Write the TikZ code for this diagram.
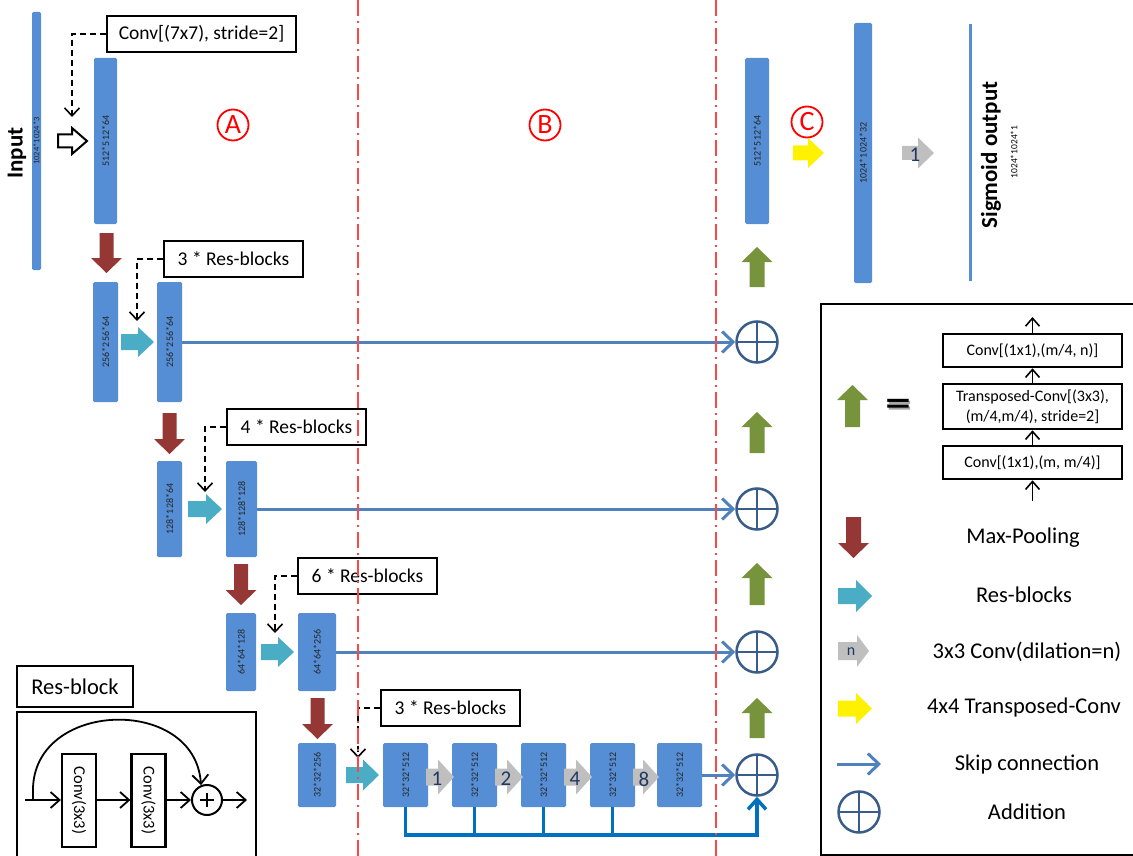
\documentclass[tikz,border=0pt]{standalone}
\usepackage{fontspec}
\setmainfont{Carlito}
\usetikzlibrary{arrows.meta,calc}
\definecolor{barblue}{RGB}{85,142,213}
\definecolor{maroonarr}{RGB}{149,55,53}
\definecolor{cyanarr}{RGB}{75,172,198}
\definecolor{greenarr}{RGB}{119,147,60}
\definecolor{grayarr}{RGB}{191,191,191}
\definecolor{skipblue}{RGB}{79,129,189}
\definecolor{addblue}{RGB}{56,93,138}
\definecolor{busblue}{RGB}{0,112,192}
\definecolor{navytxt}{RGB}{31,56,100}
\definecolor{redline}{RGB}{255,70,70}
\newcommand\fsz[1]{\fontsize{#1}{#1}\selectfont}
% block arrows: right (x1,x2,yc,shafthalf,headhalf,headlen,style)
\newcommand\RArr[7]{\path[#7] (#1,#3-#4) -- (#2-#6,#3-#4) -- (#2-#6,#3-#5) -- (#2,#3) -- (#2-#6,#3+#5) -- (#2-#6,#3+#4) -- (#1,#3+#4) -- cycle;}
% down (xc,ytail,ytip,...)
\newcommand\DArr[7]{\path[#7] (#1-#4,#2) -- (#1+#4,#2) -- (#1+#4,#3-#6) -- (#1+#5,#3-#6) -- (#1,#3) -- (#1-#5,#3-#6) -- (#1-#4,#3-#6) -- cycle;}
% up (xc,ytip,ytail,...)
\newcommand\UArr[7]{\path[#7] (#1-#4,#3) -- (#1+#4,#3) -- (#1+#4,#2+#6) -- (#1+#5,#2+#6) -- (#1,#2) -- (#1-#5,#2+#6) -- (#1-#4,#2+#6) -- cycle;}
\begin{document}
\begin{tikzpicture}[x=1pt,y=-1pt,
  bar/.style={fill=barblue, rounded corners=1.5pt, inner sep=0pt, text=black!85, font=\fsz{10}},
  lbox/.style={draw=black, line width=1.2pt, minimum width=139pt, minimum height=36pt, inner sep=0pt, font=\fsz{19.5}},
  dconn/.style={draw=black, line width=1.6pt, dash pattern=on 6pt off 4pt, -{Straight Barb[length=8pt,width=15pt]}},
  skipl/.style={draw=skipblue, line width=3pt, -{Straight Barb[length=11pt,width=21pt]}},
  busl/.style={draw=busblue, line width=3.5pt},
  addc/.style={circle, draw=addblue, line width=2.5pt, minimum size=41pt, inner sep=0pt,
    path picture={\draw[addblue, line width=2.5pt] (path picture bounding box.north) -- (path picture bounding box.south) (path picture bounding box.west) -- (path picture bounding box.east);}},
  circlab/.style={circle, draw=red, line width=1.8pt, text=red, minimum size=31pt, inner sep=0pt, font=\fsz{28}},
  redl/.style={draw=redline, line width=1.8pt, dash pattern=on 16pt off 5pt on 2pt off 5pt},
  lgbox/.style={draw=black, line width=2.5pt, minimum width=179pt, minimum height=33pt, inner sep=0pt, font=\fsz{16}, align=center},
  larr/.style={draw=black, line width=1.6pt, -{Straight Barb[length=8pt,width=14pt]}},
  rarr/.style={draw=black, line width=1.8pt, -{Straight Barb[length=9pt,width=16pt]}},
  mp/.style={fill=maroonarr}, rbs/.style={fill=cyanarr}, upc/.style={fill=greenarr},
  dil/.style={fill=grayarr}, tconv/.style={fill=yellow},
  numl/.style={text=navytxt, font=\fsz{21}, inner sep=0pt},
  legt/.style={font=\fsz{22.5}}
]
\useasboundingbox (0,0) rectangle (1133,856);

% ---------- encoder bars ----------
\node[bar, minimum width=9pt, minimum height=258pt] (in) at (36.5,141) {\rotatebox{90}{\fsz{8.5}1024*1024*3}};
\node[font=\fsz{23}\bfseries, rotate=90] (inlbl) at (17,153) {Input};
\node[bar, minimum width=23pt, minimum height=166pt] (b1) at (105.5,141) {\rotatebox{90}{512*512*64}};
\node[bar, minimum width=25pt, minimum height=120pt] (b2) at (105.5,342) {\rotatebox{90}{256*256*64}};
\node[bar, minimum width=25pt, minimum height=120pt] (b3) at (169.5,342) {\rotatebox{90}{256*256*64}};
\node[bar, minimum width=25pt, minimum height=96pt] (b4) at (169.5,509) {\rotatebox{90}{128*128*64}};
\node[bar, minimum width=31pt, minimum height=96pt] (b5) at (241.5,509) {\rotatebox{90}{128*128*128}};
\node[bar, minimum width=30pt, minimum height=78pt] (b6) at (241,652) {\rotatebox{90}{64*64*128}};
\node[bar, minimum width=38pt, minimum height=78pt] (b7) at (317,652) {\rotatebox{90}{64*64*256}};
\node[bar, minimum width=38pt, minimum height=64pt] (b8) at (317,775) {\rotatebox{90}{32*32*256}};
\node[bar, minimum width=45pt, minimum height=64pt] (c1) at (405.5,775) {\rotatebox{90}{32*32*512}};
\node[bar, minimum width=45pt, minimum height=64pt] (c2) at (474.5,775) {\rotatebox{90}{32*32*512}};
\node[bar, minimum width=45pt, minimum height=64pt] (c3) at (543.5,775) {\rotatebox{90}{32*32*512}};
\node[bar, minimum width=45pt, minimum height=64pt] (c4) at (612.5,775) {\rotatebox{90}{32*32*512}};
\node[bar, minimum width=45pt, minimum height=64pt] (c5) at (679.5,775) {\rotatebox{90}{32*32*512}};

% ---------- decoder ----------
\node[bar, minimum width=24pt, minimum height=166pt] (d1) at (757,141) {\rotatebox{90}{512*512*64}};
\node[bar, minimum width=18pt, minimum height=260pt] (d2) at (863,153) {\rotatebox{90}{1024*1024*32}};
\node[fill=barblue, minimum width=3pt, minimum height=257pt, inner sep=0pt] (sigbar) at (970,152.5) {};
\node[font=\fsz{23}\bfseries, rotate=90] (sig) at (991,155) {Sigmoid output};
\node[font=\fsz{9.5}, rotate=90] (sigdim) at (1014,152) {1024*1024*1};

\node[addc] (p1) at (757,342) {};
\node[addc] (p2) at (757,509) {};
\node[addc] (p3) at (757,652) {};
\node[addc] (p4) at (757,775) {};

% circled section letters
\node[circlab] (lA) at (233,125) {A};
\node[circlab] (lB) at (545,125) {B};
\node[circlab] (lC) at (807,122) {C};

% ---------- block arrows ----------
\RArr{58}{87}{141}{6.5}{13}{15}{draw=black,fill=white,line width=2pt}
\DArr{106.5}{233}{273}{7}{15.5}{15}{mp}
\DArr{169.5}{413}{454}{7}{15.5}{15}{mp}
\DArr{241}{564}{605}{7}{15.5}{15}{mp}
\DArr{317.5}{698}{739}{7}{15.5}{15}{mp}
\RArr{121}{154}{342}{8}{15}{16}{rbs}
\RArr{188}{222}{509}{8}{15}{16}{rbs}
\RArr{261}{294}{652}{8}{15}{16}{rbs}
\RArr{346}{379}{775}{8}{15.5}{16}{rbs}
\UArr{757}{247}{287}{7.5}{15.5}{15}{upc}
\UArr{757}{412}{453}{7.5}{15.5}{15}{upc}
\UArr{757}{563}{605}{7.5}{15.5}{15}{upc}
\UArr{757}{698}{738}{7.5}{15.5}{15}{upc}
\RArr{793}{824}{153}{7.5}{15}{16}{tconv}
\RArr{902}{934}{153}{7}{15.5}{16}{dil}
\node[numl] (n0) at (915,155) {1};
\RArr{426}{454}{777}{8.5}{17.5}{16}{dil}
\RArr{495}{523}{777}{8.5}{17.5}{16}{dil}
\RArr{564}{592}{777}{8.5}{17.5}{16}{dil}
\RArr{633}{659}{777}{8.5}{17.5}{16}{dil}
\node[numl] (n1) at (437,779) {1};
\node[numl] (n2) at (506,779) {2};
\node[numl] (n4) at (575,779) {4};
\node[numl] (n8) at (644,779) {8};

% ---------- skip connections ----------
\draw[skipl] (b3.east) -- (p1.west);
\draw[skipl] (b5.east) -- (p2.west);
\draw[skipl] (b7.east) -- (p3.west);
\draw[skipl] (c5.east) -- (p4.west);
\coordinate (busy) at (0,835);
\draw[busl, -{Straight Barb[length=10pt,width=18pt]}] (c1.south) |- (p4.south |- busy) -- (p4.south);
\foreach \c in {c2,c3,c4} \draw[busl] (\c.south) -- (\c.south |- busy);

% ---------- label boxes ----------
\node[lbox, minimum width=189pt] (cv7) at (201.5,34) {Conv[(7x7), stride=2]};
\node[lbox] (lb1) at (233.5,259) {3 * Res-blocks};
\node[lbox] (lb2) at (296.5,427) {4 * Res-blocks};
\node[lbox] (lb3) at (367.5,576) {6 * Res-blocks};
\node[lbox] (lb4) at (450.5,708) {3 * Res-blocks};
\coordinate (t0) at (72,117);
\coordinate (t1) at (137,321);
\coordinate (t2) at (205,492);
\coordinate (t3) at (275,633);
\coordinate (t4) at (358,758);
\draw[dconn] (cv7.west) -| (t0);
\draw[dconn] (lb1.west) -| (t1);
\draw[dconn] (lb2.west) -| (t2);
\draw[dconn] (lb3.west) -| (t3);
\draw[dconn] (lb4.west) -| (t4);

% ---------- Res-block inset ----------
\node[draw, line width=2.2pt, minimum width=116pt, minimum height=41pt, inner sep=0pt, font=\fsz{22.5}] (rbt) at (75,686.5) {Res-block};
\draw[line width=2.5pt] (17,712) rectangle (256,875);
\node[draw, line width=2.2pt, minimum width=34pt, minimum height=93pt, inner sep=0pt] (rc1) at (79,800.5) {\rotatebox{-90}{\fsz{16.5}Conv(3x3)}};
\node[draw, line width=2.2pt, minimum width=34pt, minimum height=93pt, inner sep=0pt] (rc2) at (148.5,800.5) {\rotatebox{-90}{\fsz{16.5}Conv(3x3)}};
\node[circle, draw, line width=2pt, minimum size=30pt, inner sep=0pt,
  path picture={\draw[line width=1.8pt] ($(path picture bounding box.center)+(-7,0)$) -- ($(path picture bounding box.center)+(7,0)$) ($(path picture bounding box.center)+(0,-7)$) -- ($(path picture bounding box.center)+(0,7)$);}] (rplus) at (207,800) {};
\coordinate (rin) at (25,800);
\coordinate (rsplit) at (33,800);
\coordinate (rout) at (247,800);
\draw[rarr] (rin) -- (rc1.west |- rin);
\draw[rarr] (rc1.east |- rin) -- (rc2.west |- rin);
\draw[rarr] (rc2.east |- rin) -- (rplus.west);
\draw[rarr] (rplus.east) -- (rout);
\draw[rarr] (rsplit) -- (33,790) .. controls (33,700) and (195,695) .. (rplus.112);

% ---------- legend ----------
\draw[line width=1.8pt] (821,304) rectangle (1140,855);
\UArr{852.5}{385}{427}{7.5}{15.5}{15}{upc}
\node[text=black!35, inner sep=0pt] (eqsh) at (899.5,409) {\scalebox{1.5}[1]{\fsz{34}\bfseries =}};
\node[inner sep=0pt] (eqs) at (898,407) {\scalebox{1.5}[1]{\fsz{34}\bfseries =}};
\node[lgbox] (u3) at (1032.5,350.5) {Conv[(1x1),(m/4, n)]};
\node[lgbox, minimum height=45pt, font=\fontsize{16}{20}\selectfont] (u2) at (1032.5,406.5) {Transposed-Conv[(3x3),\\(m/4,m/4), stride=2]};
\node[lgbox] (u1) at (1032.5,462.5) {Conv[(1x1),(m, m/4)]};
\coordinate (u0) at (1032.5,501);
\coordinate (u4) at (1032.5,317);
\draw[larr] (u0) -- (u1);
\draw[larr] (u1) -- (u2);
\draw[larr] (u2) -- (u3);
\draw[larr] (u3) -- (u4);

\DArr{853.5}{517}{558}{7.5}{15.5}{15}{mp}
\node[legt] (lt1) at (1023,538) {Max-Pooling};
\RArr{838}{872}{596}{8}{16}{16}{rbs}
\node[legt] (lt2) at (1024,595) {Res-blocks};
\RArr{838}{869}{651}{9}{16}{12}{dil}
\node[numl, font=\fsz{16}] (ln) at (851,652) {n};
\node[legt] (lt3) at (1027,652) {3x3 Conv(dilation=n)};
\RArr{838}{872}{708.5}{8}{15.5}{16}{tconv}
\node[legt] (lt4) at (1024,707) {4x4 Transposed-Conv};
\coordinate (ls1) at (837,764);
\coordinate (ls2) at (881,764);
\draw[skipl] (ls1) -- (ls2);
\node[legt] (lt5) at (1027,764) {Skip connection};
\node[addc] (la) at (859,812) {};
\node[legt] (lt6) at (1027,812) {Addition};

% ---------- section dividers ----------
\coordinate (ra1) at (358,0);
\coordinate (ra2) at (358,856);
\coordinate (rc1t) at (716,0);
\coordinate (rc2b) at (716,856);
\draw[redl] (ra1) -- (ra2);
\draw[redl] (rc1t) -- (rc2b);
\end{tikzpicture}
\end{document}
